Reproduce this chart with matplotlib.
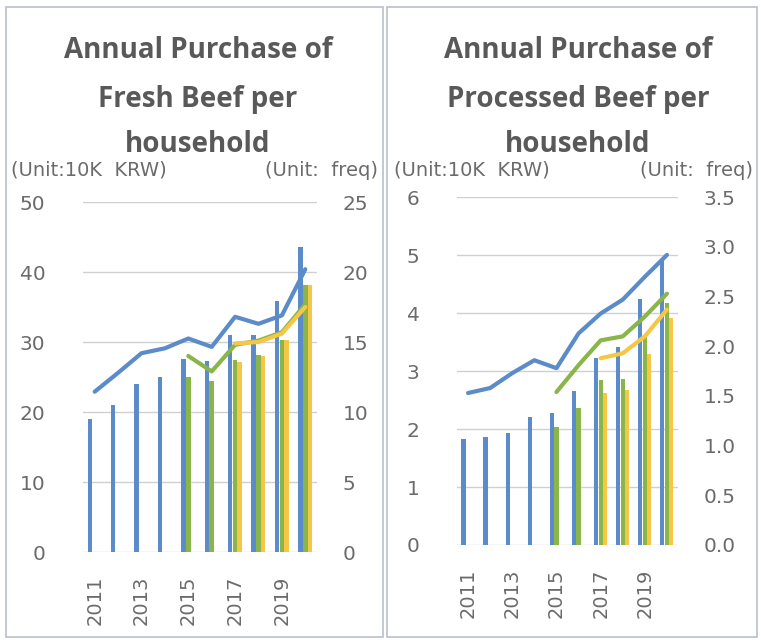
import matplotlib.pyplot as plt
from matplotlib.patches import Rectangle
import numpy as np

plt.rcParams['font.family'] = ['DejaVu Sans']

years = list(range(2011, 2021))
tick_years = [2011, 2013, 2015, 2017, 2019]

# fresh beef: spending bars (10K KRW) and purchase frequency lines
fresh_bar_blue = [19.0, 21.0, 24.0, 25.0, 27.6, 27.3, 31.0, 31.0, 35.9, 43.6]
fresh_bar_green = [None, None, None, None, 25.0, 24.5, 27.5, 28.1, 30.3, 38.1]
fresh_bar_yellow = [None, None, None, None, None, None, 27.2, 28.0, 30.3, 38.1]
fresh_line_blue = [11.45, 12.8, 14.2, 14.55, 15.25, 14.65, 16.8, 16.3, 16.9, 20.2]
fresh_line_green = [None, None, None, None, 14.0, 12.9, 14.8, 15.1, 15.7, 17.7]
fresh_line_yellow = [None, None, None, None, None, None, 14.9, 15.0, 15.6, 17.5]

# processed beef
proc_bar_blue = [1.83, 1.86, 1.94, 2.21, 2.28, 2.66, 3.22, 3.42, 4.25, 4.9]
proc_bar_green = [None, None, None, None, 2.04, 2.36, 2.84, 2.87, 3.59, 4.17]
proc_bar_yellow = [None, None, None, None, None, None, 2.62, 2.67, 3.30, 3.91]
proc_line_blue = [1.53, 1.58, 1.73, 1.86, 1.78, 2.13, 2.33, 2.47, 2.70, 2.92]
proc_line_green = [None, None, None, None, 1.54, 1.81, 2.06, 2.10, 2.30, 2.53]
proc_line_yellow = [None, None, None, None, None, None, 1.88, 1.93, 2.10, 2.37]

BLUE = '#5b8bc8'
GREEN = '#8ab54a'
YELLOW = '#f6c646'
TXT = '#595959'
TICK = '#6b6b6b'


def pick(vals):
    idx = [i for i, v in enumerate(vals) if v is not None]
    return np.array(idx), np.array([vals[i] for i in idx])


def panel(rect, bars, lines, ymax, ystep, y2max, y2step, y2fmt):
    ax = fig.add_axes(rect)
    for vals, off, c in zip(bars, [-0.21, 0.0, 0.19], [BLUE, GREEN, YELLOW]):
        x, v = pick(vals)
        ax.bar(x + off, v, width=0.19, color=c, zorder=2)
    ax.set_xlim(-0.5, 9.5)
    ax.set_ylim(0, ymax)
    yt = np.arange(0, ymax + ystep / 2, ystep)
    ax.set_yticks(yt)
    ax.set_yticklabels([f'{t:g}' for t in yt])
    ax.set_xticks([years.index(y) for y in tick_years])
    ax.set_xticklabels([str(y) for y in tick_years], rotation=90)
    ax.grid(axis='y', color='#d0d0d0', linewidth=1)
    ax.set_axisbelow(True)
    for s in ax.spines.values():
        s.set_visible(False)
    ax.tick_params(length=0, colors=TICK)
    ax.tick_params(axis='y', pad=27, labelsize=14.5)
    ax.tick_params(axis='x', pad=17, labelsize=14)

    ax2 = ax.twinx()
    for vals, c in zip(lines, [BLUE, GREEN, YELLOW]):
        x, v = pick(vals)
        ax2.plot(x, v, color=c, linewidth=3, solid_capstyle='round')
    ax2.set_ylim(0, y2max)
    ticks = np.arange(0, y2max + y2step / 2, y2step)
    ax2.set_yticks(ticks)
    ax2.set_yticklabels([y2fmt.format(t) for t in ticks])
    for s in ax2.spines.values():
        s.set_visible(False)
    ax2.tick_params(length=0, colors=TICK, labelsize=14.5, pad=18.5)
    return ax


fig = plt.figure(figsize=(7.61, 6.43), dpi=100)
W, H = 761, 643

# panel frames
fig.patches.append(Rectangle((6 / W, 1 - 637 / H), 377 / W, 630 / H, transform=fig.transFigure,
                             fill=False, edgecolor='#b9bfca', linewidth=1.2))
fig.patches.append(Rectangle((387 / W, 1 - 637 / H), 370 / W, 630 / H, transform=fig.transFigure,
                             fill=False, edgecolor='#b9bfca', linewidth=1.2))

panel([83 / W, 91 / H, 234 / W, 350 / H],
      [fresh_bar_blue, fresh_bar_green, fresh_bar_yellow],
      [fresh_line_blue, fresh_line_green, fresh_line_yellow],
      50, 10, 25, 5, '{:g}')
panel([457 / W, 98 / H, 221 / W, 347.7 / H],
      [proc_bar_blue, proc_bar_green, proc_bar_yellow],
      [proc_line_blue, proc_line_green, proc_line_yellow],
      6, 1, 3.5, 0.5, '{:.1f}')

titles = [('Annual Purchase of', 'Fresh Beef per', 'household', 198),
          ('Annual Purchase of', 'Processed Beef per', 'household', 578)]
for l1, l2, l3, cx in titles:
    for txt, y in zip([l1, l2, l3], [50, 100, 144]):
        fig.text(cx / W, 1 - y / H, txt, ha='center', va='center', fontsize=20,
                 fontweight='bold', color=TXT, family='Open Sans')

for x0, x1 in [(11, 378), (394, 753)]:
    fig.text(x0 / W, 1 - 170 / H, '(Unit:10K  KRW)', ha='left', va='center', fontsize=14,
             color=TICK)
    fig.text(x1 / W, 1 - 170 / H, '(Unit:  freq)', ha='right', va='center', fontsize=14,
             color=TICK)

fig.savefig('out.png', dpi=100, facecolor='white')
